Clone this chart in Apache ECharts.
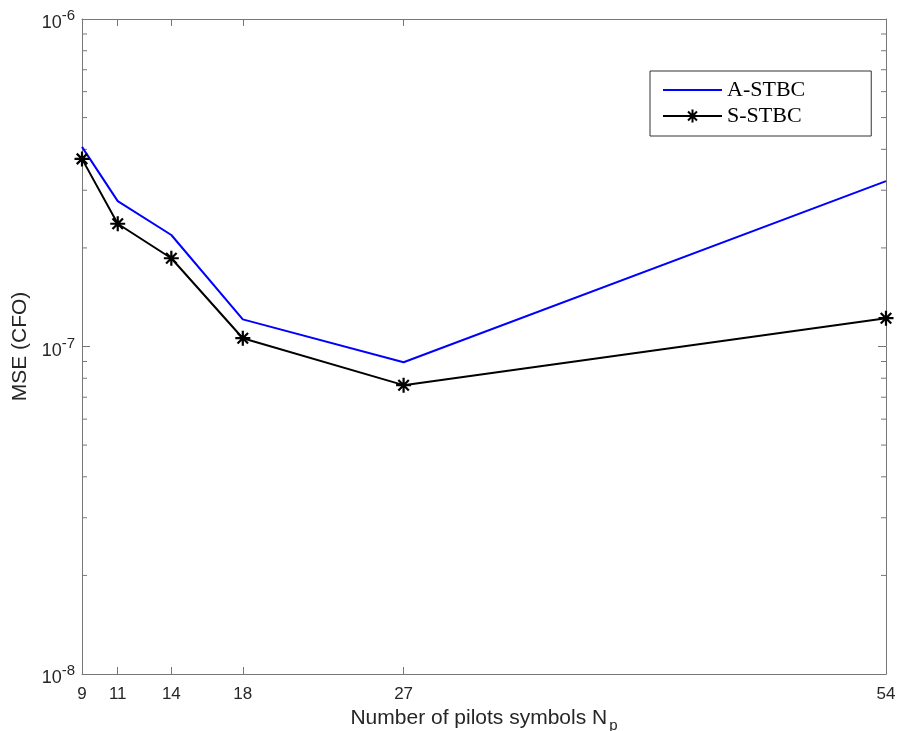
<!DOCTYPE html>
<html>
<head>
<meta charset="utf-8">
<script src="https://cdn.jsdelivr.net/npm/echarts@6/dist/echarts.min.js"></script>
<style>
  html, body { margin: 0; padding: 0; background: #fff; }
  #chart { width: 899px; height: 731px; }
</style>
</head>
<body>
<div id="chart"></div>
<script>
// Number of pilot symbols on the x axis
const pilots = [9, 11, 14, 18, 27, 54];
// MSE of the CFO estimate for each scheme
const aStbc = [4.07e-7, 2.78e-7, 2.19e-7, 1.21e-7, 8.95e-8, 3.20e-7];
const sStbc = [3.74e-7, 2.37e-7, 1.86e-7, 1.06e-7, 7.62e-8, 1.22e-7];
// Log-axis decades and the minor ticks in between
const yMin = 1e-8;
const yMax = 1e-6;
const minorTicks = [2e-8, 3e-8, 4e-8, 5e-8, 6e-8, 7e-8, 8e-8, 9e-8,
                    2e-7, 3e-7, 4e-7, 5e-7, 6e-7, 7e-7, 8e-7, 9e-7];

const axisColor = '#777';
const textColor = '#262626';
const sansFont = 'Liberation Sans, Arial, sans-serif';
const serifFont = 'Liberation Serif, Times New Roman, serif';

// Eight-spoke asterisk marker, drawn as strokes only
const asterisk = 'path://M0,-10 L0,10 M-10,0 L10,0 M-7,-7 L7,7 M-7,7 L7,-7';

const chart = echarts.init(document.getElementById('chart'), null, { renderer: 'canvas' });

const xBase = {
  type: 'value',
  min: pilots[0],
  max: pilots[pilots.length - 1],
  splitLine: { show: false },
  axisLine: { show: true, lineStyle: { color: axisColor, width: 1 } }
};

const yBase = {
  type: 'log',
  logBase: 10,
  min: yMin,
  max: yMax,
  splitLine: { show: false },
  minorTick: { show: false },
  axisLine: { show: true, lineStyle: { color: axisColor, width: 1 } }
};

chart.setOption({
  animation: false,
  backgroundColor: '#fff',
  grid: { left: 82, right: 13, top: 19, bottom: 57, containLabel: false, outerBoundsMode: 'none' },
  legend: {
    data: ['A-STBC', 'S-STBC'],
    orient: 'vertical',
    left: 650,
    top: 71,
    backgroundColor: '#fff',
    borderColor: '#333',
    borderWidth: 1,
    borderRadius: 0,
    padding: [8, 66, 9, 12],
    itemWidth: 59,
    itemHeight: 16,
    itemGap: 4,
    textStyle: { fontFamily: serifFont, fontSize: 22, color: '#000' }
  },
  xAxis: [
    Object.assign({}, xBase, {
      position: 'bottom',
      name: '{a|Number of pilots symbols N}{s|p}',
      nameLocation: 'middle',
      nameGap: 27,
      nameTextStyle: {
        rich: {
          a: { fontFamily: sansFont, fontSize: 21, color: textColor },
          s: { fontFamily: sansFont, fontSize: 15, color: textColor, padding: [15, 0, 0, 2] }
        }
      },
      axisTick: { show: true, inside: true, length: 7, customValues: pilots, lineStyle: { color: axisColor } },
      axisLabel: {
        customValues: pilots,
        margin: 12,
        fontFamily: sansFont,
        fontSize: 17,
        color: textColor
      }
    }),
    Object.assign({}, xBase, {
      position: 'top',
      axisTick: { show: true, inside: true, length: 7, customValues: pilots, lineStyle: { color: axisColor } },
      axisLabel: { show: false }
    })
  ],
  yAxis: [
    Object.assign({}, yBase, {
      position: 'left',
      name: 'MSE (CFO)',
      nameLocation: 'middle',
      nameGap: 45,
      nameTextStyle: { fontFamily: sansFont, fontSize: 21, color: textColor },
      axisTick: { show: true, inside: true, length: 8, lineStyle: { color: axisColor } },
      axisLabel: {
        margin: 7,
        formatter: function (v) {
          return '{b|10}{e|' + Math.round(Math.log10(v)) + '}';
        },
        rich: {
          b: { fontFamily: sansFont, fontSize: 18, color: textColor, padding: [9, 0, 0, 0] },
          e: { fontFamily: sansFont, fontSize: 15, color: textColor, padding: [0, 0, 6, 0] }
        }
      }
    }),
    Object.assign({}, yBase, {
      position: 'right',
      axisTick: { show: true, inside: true, length: 8, lineStyle: { color: axisColor } },
      axisLabel: { show: false }
    })
  ],
  series: [
    {
      // log-scale minor ticks on both vertical borders
      type: 'custom',
      name: 'minor',
      silent: true,
      xAxisIndex: 0,
      yAxisIndex: 0,
      z: 1,
      data: minorTicks.map(function (v) { return [pilots[0], v]; }),
      renderItem: function (params, api) {
        const cs = params.coordSys;
        const y = api.coord([pilots[0], api.value(1)])[1];
        const style = { stroke: axisColor, lineWidth: 1 };
        return {
          type: 'group',
          children: [
            { type: 'line', shape: { x1: cs.x, y1: y, x2: cs.x + 5, y2: y }, style: style },
            { type: 'line', shape: { x1: cs.x + cs.width - 5, y1: y, x2: cs.x + cs.width, y2: y }, style: style }
          ]
        };
      }
    },
    {
      name: 'A-STBC',
      type: 'line',
      xAxisIndex: 0,
      yAxisIndex: 0,
      data: pilots.map(function (p, i) { return [p, aStbc[i]]; }),
      symbol: 'none',
      lineStyle: { color: '#0000ff', width: 2 },
      itemStyle: { color: 'rgba(0,0,0,0)', borderWidth: 0 },
      z: 3
    },
    {
      name: 'S-STBC',
      type: 'line',
      xAxisIndex: 0,
      yAxisIndex: 0,
      data: pilots.map(function (p, i) { return [p, sStbc[i]]; }),
      symbol: asterisk,
      symbolSize: 15,
      showAllSymbol: true,
      lineStyle: { color: '#000', width: 2 },
      itemStyle: { color: 'rgba(0,0,0,0)', borderColor: '#000', borderWidth: 2.2 },
      z: 4
    }
  ]
});
</script>
</body>
</html>
